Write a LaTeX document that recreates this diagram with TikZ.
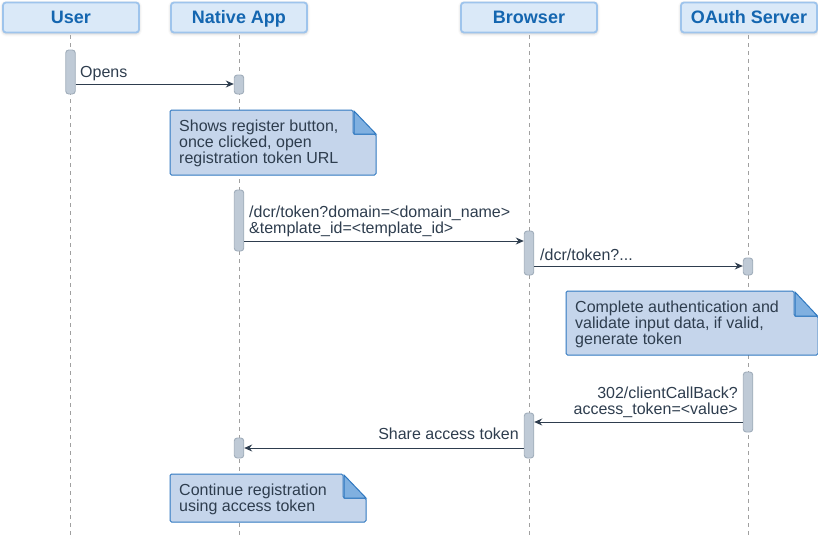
\documentclass[tikz,border=0pt]{standalone}
\usepackage{fontspec}
\setmainfont{Liberation Sans}
\usetikzlibrary{arrows.meta,shadows.blur}
\definecolor{hdrfill}{HTML}{DAE9F8}
\definecolor{hdrdraw}{HTML}{9EC4EC}
\definecolor{hdrtext}{HTML}{1466B0}
\definecolor{notefill}{HTML}{C5D5EB}
\definecolor{notedraw}{HTML}{2F78C0}
\definecolor{foldfill}{HTML}{80B0E0}
\definecolor{actfill}{HTML}{BFCAD6}
\definecolor{actdraw}{HTML}{A0ADBA}
\definecolor{txt}{HTML}{2E3D4E}
\definecolor{lifeline}{HTML}{A0A0A0}
\begin{document}
\begin{tikzpicture}[x=1pt,y=-1pt,
  header/.style={draw=hdrdraw, line width=1.8pt, fill=hdrfill, rounded corners=3pt,
    minimum width=136pt, minimum height=30pt, inner sep=0pt,
    text height=12.5pt, text depth=0pt,
    text=hdrtext, font=\fontsize{18}{20}\selectfont\bfseries,
    blur shadow={shadow xshift=0pt, shadow yshift=-1pt, shadow blur radius=3pt, shadow opacity=25}},
  life/.style={draw=lifeline, line width=0.9pt, dash pattern=on 4pt off 4pt},
  act/.style={draw=actdraw, fill=actfill, line width=0.9pt, rounded corners=3pt},
  msg/.style={draw=txt, line width=1pt, -{Stealth[length=8pt,width=7pt]}},
  lbl/.style={text=txt, font=\fontsize{16}{16}\selectfont, inner sep=0pt},
  notebody/.style={draw=notedraw, fill=notefill, line width=1pt, rounded corners=1.5pt},
  notefold/.style={draw=notedraw, fill=foldfill, line width=1pt},
]
\useasboundingbox (0,0) rectangle (818,536);

% headers
\node[header] (user) at (71,17.5) {User};
\node[header] (app) at (239,17.5) {Native App};
\node[header] (br) at (529,17.5) {Browser};
\node[header] (oa) at (749,17.5) {OAuth Server};

% lifelines
\coordinate (userEnd) at (70,536);
\coordinate (appEnd) at (239,536);
\coordinate (brEnd) at (529,536);
\coordinate (oaEnd) at (748,536);
\draw[life] (70,35) -- (userEnd);
\draw[life] (239,35) -- (appEnd);
\draw[life] (529,35) -- (brEnd);
\draw[life] (748,35) -- (oaEnd);

% activation bars
\node[act, minimum width=9.5pt, minimum height=44pt, inner sep=0pt] (a1) at (70.5,72) {};
\node[act, minimum width=9.5pt, minimum height=19pt, inner sep=0pt] (a2) at (239,84.5) {};
\node[act, minimum width=9.5pt, minimum height=61pt, inner sep=0pt] (a3) at (239,220.5) {};
\node[act, minimum width=9.5pt, minimum height=44pt, inner sep=0pt] (a4) at (529,253) {};
\node[act, minimum width=9.5pt, minimum height=17pt, inner sep=0pt] (a5) at (748,266.5) {};
\node[act, minimum width=9.5pt, minimum height=60pt, inner sep=0pt] (a6) at (748,402) {};
\node[act, minimum width=9.5pt, minimum height=45pt, inner sep=0pt] (a7) at (529,435.5) {};
\node[act, minimum width=9.5pt, minimum height=20pt, inner sep=0pt] (a8) at (239,448) {};

% messages
\draw[msg] (a1.east |- 0,84) -- (a2.west |- 0,84);
\node[lbl, anchor=base west] (l1) at (80,77.5) {Opens};

\draw[msg] (a3.east |- 0,241) -- (a4.west |- 0,241);
\node[lbl, anchor=base west, align=left] (l2) at (249,233.5) {/dcr/token?domain=<domain\_name>\\\&template\_id=<template\_id>};

\draw[msg] (a4.east |- 0,266) -- (a5.west |- 0,266);
\node[lbl, anchor=base west] (l3) at (540,260.5) {/dcr/token?...};

\draw[msg] (a6.west |- 0,422) -- (a7.east |- 0,422);
\node[lbl, anchor=base east, align=right] (l4) at (738,414.5) {302/clientCallBack?\\access\_token=<value>};

\draw[msg] (a7.west |- 0,448) -- (a8.east |- 0,448);
\node[lbl, anchor=base east] (l5) at (519,439.5) {Share access token};

% note 1
\draw[notebody] (170,110) -- (353,110) -- (353,134) -- (376,134) -- (376,175) -- (170,175) -- cycle;
\draw[notefold] (354,111) -- (376,134) -- (354,134) -- cycle;
\node[lbl, anchor=base west, align=left] (n1) at (179,163.5) {Shows register button,\\once clicked, open\\registration token URL};

% note 2
\draw[notebody] (566,291) -- (794,291) -- (794,316) -- (818,316) -- (818,355) -- (566,355) -- cycle;
\draw[notefold] (795,292) -- (817.5,316) -- (795,316) -- cycle;
\node[lbl, anchor=base west, align=left] (n2) at (575,344.5) {Complete authentication and\\validate input data, if valid,\\generate token};

% note 3
\draw[notebody] (170,474) -- (343,474) -- (343,498) -- (366,498) -- (366,522) -- (170,522) -- cycle;
\draw[notefold] (344,475) -- (366,498) -- (344,498) -- cycle;
\node[lbl, anchor=base west, align=left] (n3) at (179,511.5) {Continue registration\\using access token};
\end{tikzpicture}
\end{document}
